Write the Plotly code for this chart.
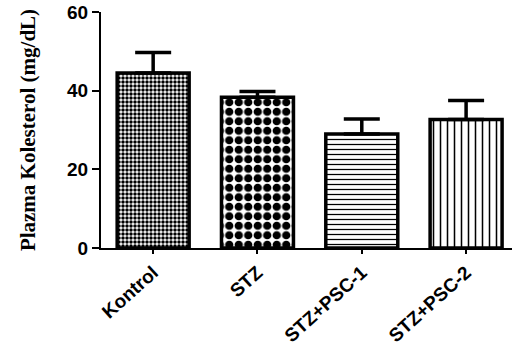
import plotly.graph_objects as go

categories = ["Kontrol", "STZ", "STZ+PSC-1", "STZ+PSC-2"]
means = [44.5, 38.3, 29.0, 32.7]
sem = [5.2, 1.5, 3.8, 4.8]

patterns = [
    dict(shape=".", size=4, solidity=0.6),
    dict(shape=".", size=9.5, solidity=0.6),
    dict(shape="-", size=5, solidity=0.25),
    dict(shape="|", size=7, solidity=0.22),
]

fig = go.Figure()
for i, c in enumerate(categories):
    p = patterns[i]
    fig.add_trace(go.Bar(
        x=[c], y=[means[i]],
        width=0.69,
        marker=dict(color="white",
                    line=dict(color="black", width=3.5),
                    pattern=dict(shape=p["shape"], size=p["size"], solidity=p["solidity"],
                                 fgcolor="black", bgcolor="white", fillmode="replace")),
        error_y=dict(type="data", array=[sem[i]], arrayminus=[0], symmetric=False,
                     color="black", thickness=3.5, width=18),
        showlegend=False,
    ))

fig.update_layout(
    width=513, height=349,
    margin=dict(l=101, r=1, t=12, b=101),
    plot_bgcolor="white", paper_bgcolor="white",
    xaxis=dict(
        type="category", range=[-0.5, 3.44], automargin=False,
        showline=True, linecolor="black", linewidth=2,
        ticks="outside", ticklen=4, tickwidth=2, tickcolor="black",
        tickangle=-42, showgrid=False, zeroline=False,
        tickfont=dict(family="Liberation Sans", size=19, color="black", weight="bold"),
    ),
    yaxis=dict(
        range=[0, 60], tickvals=[0, 20, 40, 60], automargin=False,
        showline=True, linecolor="black", linewidth=2,
        ticks="outside", ticklen=7, tickwidth=2, tickcolor="black",
        showgrid=False, zeroline=False,
        tickfont=dict(family="Liberation Sans", size=19, color="black", weight="bold"),
        title=dict(text="Plazma Kolesterol (mg/dL)", standoff=26,
                   font=dict(family="Liberation Serif", size=21, color="black", weight="bold")),
    ),
)

fig.write_html("out.html", config={"displayModeBar": False},
               post_script="document.body.style.margin='0';")
